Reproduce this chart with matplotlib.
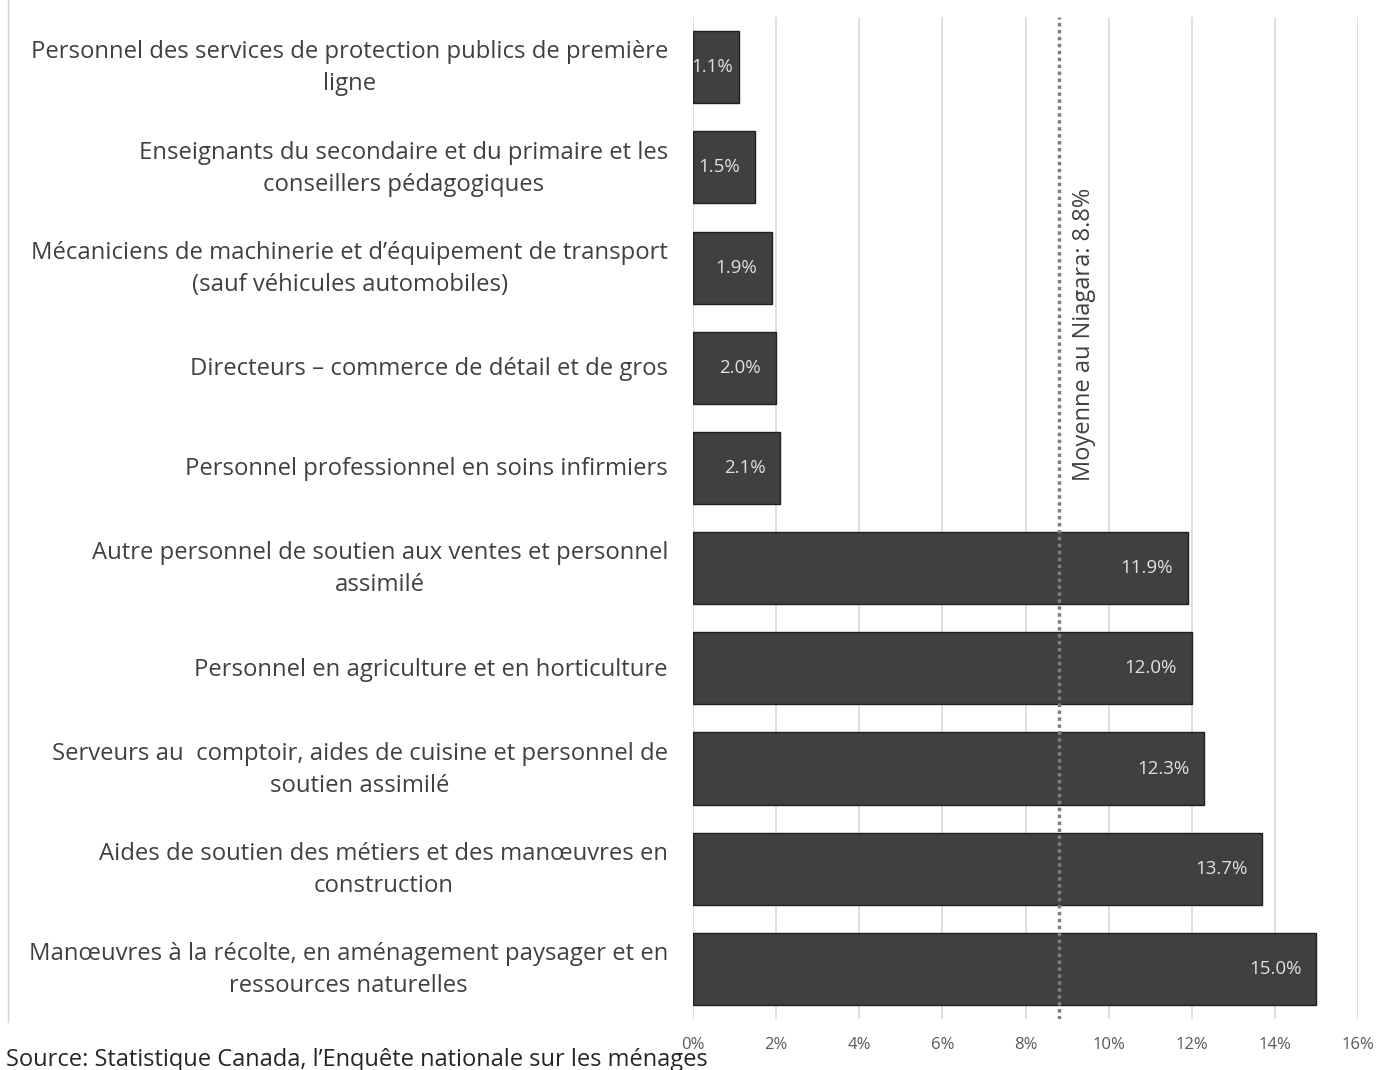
import matplotlib
matplotlib.use("Agg")
import matplotlib.pyplot as plt
from matplotlib.lines import Line2D
from matplotlib.ticker import FuncFormatter
from matplotlib.transforms import ScaledTranslation

plt.rcParams['font.family'] = ['Open Sans', 'DejaVu Sans']

# Occupations (top to bottom) and share of workers, %
occupations = [
    "Personnel des services de protection publics de première\nligne",
    "Enseignants du secondaire et du primaire et les\nconseillers pédagogiques",
    "Mécaniciens de machinerie et d’équipement de transport\n(sauf véhicules automobiles)",
    "Directeurs – commerce de détail et de gros",
    "Personnel professionnel en soins infirmiers",
    "Autre personnel de soutien aux ventes et personnel\nassimilé",
    "Personnel en agriculture et en horticulture",
    "Serveurs au  comptoir, aides de cuisine et personnel de\nsoutien assimilé",
    "Aides de soutien des métiers et des manœuvres en\nconstruction",
    "Manœuvres à la récolte, en aménagement paysager et en\nressources naturelles",
]
shares = [1.1, 1.5, 1.9, 2.0, 2.1, 11.9, 12.0, 12.3, 13.7, 15.0]
niagara_avg = 8.8
x_ticks = [0, 2, 4, 6, 8, 10, 12, 14, 16]
source_text = "Source: Statistique Canada, l’Enquête nationale sur les ménages"

fig = plt.figure(figsize=(14, 10.7), dpi=100)
ax = fig.add_axes([0.495, 0.0477, 0.475, 0.9363])

pos = list(range(len(occupations)))
ax.barh(pos, shares, height=0.72, color="#404040", edgecolor="#1f1f1f",
        linewidth=1.0, zorder=3)

ax.set_ylim(len(occupations) - 0.5, -0.5)
ax.set_xlim(0, 16)
ax.set_xticks(x_ticks)
ax.xaxis.set_major_formatter(FuncFormatter(lambda v, _: f"{v:.0f}%"))
ax.set_yticks([])
ax.tick_params(axis="x", length=0, pad=13, labelsize=12, labelcolor="#595959")

# category labels, block right-aligned, lines centred
ylab = ax.get_yaxis_transform()
nudge = ScaledTranslation(-0.25, -0.012, fig.dpi_scale_trans)
for p, name in zip(pos, occupations):
    ax.text(0, p, name, transform=ylab + nudge, ha="right", va="center",
            multialignment="center", linespacing=1.45, fontsize=17.2,
            color="#404040")

ax.grid(axis="x", color="#d9d9d9", linewidth=1.2, zorder=0)
ax.set_axisbelow(True)
for s in ax.spines.values():
    s.set_visible(False)

# value labels at inside end of each bar
for p, v in zip(pos, shares):
    x_right = max(v - 0.36, 0.97)
    ax.text(x_right, p, f"{v:.1f}%", ha="right", va="center",
            fontsize=13.5, color="#e0e0e0", zorder=4)

# regional average line
ax.axvline(niagara_avg, color="#7f7f7f", linestyle=(0, (1, 1)),
           linewidth=2.5, zorder=5)
ax.text(niagara_avg + 0.6, 2.67, f"Moyenne au Niagara: {niagara_avg}%",
        rotation=90, ha="center", va="center", fontsize=17,
        color="#404040", zorder=5)

# chart frame edge on the left
fig.add_artist(Line2D([0.006, 0.006], [0.045, 1.0], color="#d0d0d0",
                      linewidth=1.0, transform=fig.transFigure))

fig.text(0.004, -0.002, source_text, ha="left", va="bottom",
         fontsize=17, color="#262626")

fig.savefig("out.png", dpi=100)
